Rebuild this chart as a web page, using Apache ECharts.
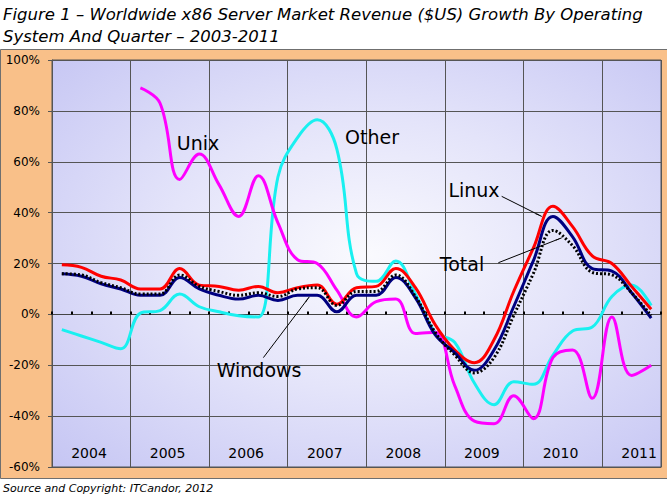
<!DOCTYPE html>
<html><head><meta charset="utf-8">
<script src="https://cdn.jsdelivr.net/npm/echarts@6/dist/echarts.min.js"></script>
<style>html,body{margin:0;padding:0;background:#fff}#c{width:667px;height:500px}</style>
</head><body><div id="c"></div>
<script>
// Quarterly categories 2004 Q1 .. 2011 Q3
const quarters = ['2004 Q1','2004 Q2','2004 Q3','2004 Q4','2005 Q1','2005 Q2','2005 Q3','2005 Q4',
  '2006 Q1','2006 Q2','2006 Q3','2006 Q4','2007 Q1','2007 Q2','2007 Q3','2007 Q4',
  '2008 Q1','2008 Q2','2008 Q3','2008 Q4','2009 Q1','2009 Q2','2009 Q3','2009 Q4',
  '2010 Q1','2010 Q2','2010 Q3','2010 Q4','2011 Q1','2011 Q2','2011 Q3'];
const years = ['2004','2005','2006','2007','2008','2009','2010','2011'];
const yTicks = [-60,-40,-20,0,20,40,60,80,100];

// Year-on-year revenue growth (%)
const linux   = [19.5,18.5,15,13.5,10,10,18,11.5,11,9.5,11,8.5,10.5,11.5,4,10.5,11,18,10.5,-4,-14,-19,-10,9,26,42.5,34.5,23,20,11,2];
const windows = [16,15,12,10,7.5,7.5,14.5,10,7.5,6,7.5,5.5,7.5,7.5,1,7.5,7.5,14.5,6.5,-8,-15,-22,-14,3,21,38.5,30.5,18,17,8.5,-1.5];
const total   = [16,15.5,12.5,10.5,8,8,15.5,11,9,7.5,8.5,7,10,10.5,3.5,9,9,15.5,7,-7,-16,-23,-17,-0.5,16,33,27,16.5,15.5,8.5,-0.5];
const unix    = [null,null,null,null,89,83,53,63,51,38.5,54.5,36,21.5,20,9.5,-1,5,6,-7.5,-7,-28,-42,-43,-32,-41,-17,-14,-33,-1,-24,-20];
const other   = [-6,-8.5,-11,-13.5,0.5,1.5,8,3,1,-0.5,-1,54,69.5,76.5,65,16,13,21,8,-7,-11,-27,-35.5,-26.5,-27.5,-16,-6.5,-5,7,11.5,3.5];

const FONT = 'DejaVu Sans';
const xy = arr => arr.map((v, i) => [i + 0.5, v]);
const noteStyle = {show:true, position:'inside', color:'#000', fontSize:19, fontFamily:FONT};
function note(text, coord){
  return {symbol:'circle', symbolSize:1, itemStyle:{color:'rgba(0,0,0,0)'}, silent:true,
    label:Object.assign({formatter:text}, noteStyle), data:[{coord:coord}]};
}
function arrow(from, to){
  return {symbol:['none','arrow'], symbolSize:[1,7], silent:true, label:{show:false},
    lineStyle:{color:'#000', width:1, type:'solid'}, emphasis:{disabled:true},
    data:[[{coord:from},{coord:to}]]};
}

const chart = echarts.init(document.getElementById('c'), null, {renderer:'svg', width:667, height:500});
chart.setOption({
  animation:false,
  backgroundColor:'#fff',
  graphic:[{type:'rect', left:0, top:49, z:-10, shape:{width:670, height:429},
    style:{fill:'#f9c089', stroke:'#6f6f6f', lineWidth:1}}],
  title:[
    {text:'Figure 1 – Worldwide x86 Server Market Revenue ($US) Growth By Operating\nSystem And Quarter – 2003-2011',
     left:3, top:3, padding:0,
     textStyle:{fontFamily:FONT, fontStyle:'italic', fontWeight:'normal', fontSize:16.5, lineHeight:22, color:'#000'}},
    {text:'Source and Copyright: ITCandor, 2012', left:3, top:483, padding:0,
     textStyle:{fontFamily:FONT, fontStyle:'italic', fontWeight:'normal', fontSize:11, color:'#000'}}
  ],
  grid:{left:52, right:6, top:60, bottom:33, show:true, borderColor:'#555', borderWidth:1,
    backgroundColor:{type:'radial', x:0.52, y:0.48, r:0.75,
      colorStops:[{offset:0, color:'#fafafe'},{offset:0.45,color:'#e4e4fa'},{offset:1, color:'#c4c4f3'}]}},
  xAxis:[
    {type:'value', min:0, max:31, interval:1, position:'bottom',
     axisLine:{show:true, onZero:true, lineStyle:{color:'#444', width:1}},
     axisTick:{show:true, inside:true, length:3, lineStyle:{color:'#000', width:2}},
     axisLabel:{show:false}, splitLine:{show:false}},
    {type:'value', min:0, max:31, interval:4, position:'bottom',
     axisLine:{show:true, onZero:false, lineStyle:{color:'#555'}},
     axisTick:{show:false},
     splitLine:{show:true, lineStyle:{color:'#555', width:1}},
     axisLabel:{inside:true, margin:7, fontSize:14, fontFamily:FONT, color:'#000',
       padding:[0,0,0,74], showMaxLabel:false,
       formatter: v => (v % 4 === 0 && v / 4 < years.length) ? years[v / 4] : ''}}
  ],
  yAxis:{type:'value', min:yTicks[0], max:yTicks[yTicks.length-1], interval:20,
    axisLine:{show:true, lineStyle:{color:'#555'}},
    axisTick:{show:true, length:4, lineStyle:{color:'#555'}},
    axisLabel:{formatter:'{value}%', fontSize:12, fontFamily:FONT, color:'#000', margin:12},
    splitLine:{show:true, lineStyle:{color:'#555', width:1}}},
  series:[
    {name:'Other', type:'line', data:xy(other), smooth:0.4, symbol:'none', z:2,
     lineStyle:{color:'#19f0f0', width:3},
     markPoint:note('Other',[16.29,69.6])},
    {name:'Unix', type:'line', data:xy(unix), smooth:0.4, symbol:'none', z:2,
     lineStyle:{color:'#ff00ff', width:3},
     markPoint:note('Unix',[7.43,67.2])},
    {name:'Linux', type:'line', data:xy(linux), smooth:0.4, symbol:'none', z:3,
     lineStyle:{color:'#ff0000', width:3},
     markPoint:note('Linux',[21.48,48.8]),
     markLine:arrow([22.89,46.4],[24.93,38.5])},
    {name:'Windows', type:'line', data:xy(windows), smooth:0.4, symbol:'none', z:3,
     lineStyle:{color:'#000080', width:3},
     markPoint:note('Windows',[10.54,-22.0]),
     markLine:arrow([10.76,-17.0],[13.1,6.9])},
    {name:'Total', type:'line', data:xy(total), smooth:0.4, symbol:'none', z:4,
     lineStyle:{color:'#000', width:3, type:[2,2]},
     markPoint:note('Total',[20.87,19.8]),
     markLine:arrow([22.72,20.3],[25.95,30.1])}
  ]
});
</script></body></html>
